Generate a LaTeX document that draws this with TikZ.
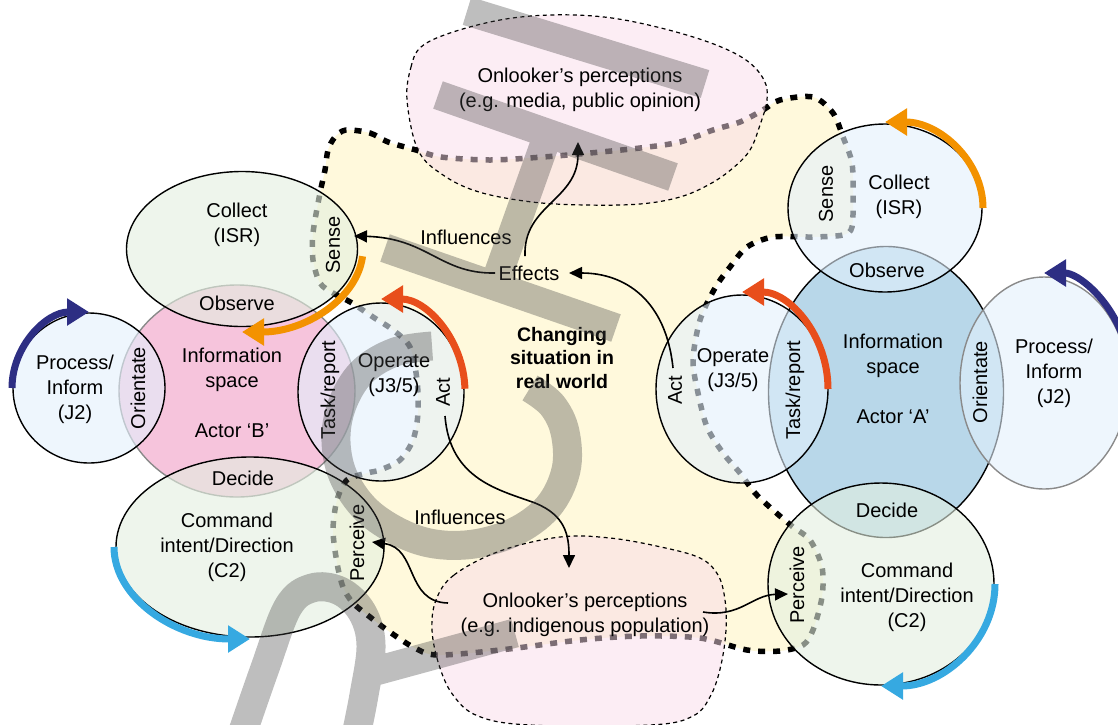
\documentclass[tikz,border=0pt]{standalone}
\usepackage{fontspec}
\setmainfont{Liberation Sans}
\usetikzlibrary{arrows.meta}
\definecolor{zoneyellow}{HTML}{FFF9DC}
\definecolor{blobpink}{HTML}{F9DBE9}
\definecolor{infopink}{HTML}{F6C4DC}
\definecolor{infoblue}{HTML}{B8D7E9}
\definecolor{satgreen}{HTML}{E3EFE0}
\definecolor{satblue}{HTML}{E3F0FC}
\definecolor{loopnavy}{HTML}{2D2E83}
\definecolor{looporange}{HTML}{F39200}
\definecolor{loopred}{HTML}{E84E1B}
\definecolor{loopsky}{HTML}{36A9E1}
\definecolor{wmgray}{HTML}{444444}
\definecolor{rimgray}{HTML}{8A8A8A}
\begin{document}
\begin{tikzpicture}[x=1pt, y=-1pt,
  lbl/.style={font=\fontsize{20}{25}\selectfont, align=center, inner sep=0pt},
  vlbl/.style={lbl, rotate=90},
  hdr/.style={lbl, font=\fontsize{19.5}{23.5}\selectfont\bfseries},
  sat/.style={draw=black, line width=1.4pt, fill opacity=0.6},
  core/.style={line width=1.4pt},
  zone/.style={fill=zoneyellow, draw=black, line width=5.5pt, dash pattern=on 7pt off 8pt},
  blob/.style={fill=blobpink, fill opacity=0.5, draw=black, line width=1.2pt, dash pattern=on 4pt off 3.5pt},
  link/.style={line width=1.6pt, -{Triangle[length=13pt,width=12pt]}},
  cyc/.style={line width=7pt, -{Triangle[length=22pt,width=26pt]}},
  wm/.style={draw=wmgray, draw opacity=0.35, line width=29pt}
]
\useasboundingbox (0,0) rectangle (1118,724);
\clip (0,0) rectangle (1118,724);

% centres of the loop ellipses
\coordinate (cl) at (242,249);  % collect, actor B
\coordinate (il) at (237,391);  % information space B
\coordinate (pl) at (89,388);   % process B
\coordinate (ol) at (381,392);  % operate B
\coordinate (dl) at (250,547);  % command B
\coordinate (cr) at (885,208);  % collect, actor A
\coordinate (ir) at (886,392);  % information space A
\coordinate (pr) at (1044,383); % process A
\coordinate (or) at (742,389);  % operate A
\coordinate (dr) at (881,584);  % command A

% changing situation in the real world
\path[zone] plot[smooth cycle, tension=0.5] coordinates {
  (346,130) (370,133) (388,142) (416,150) (441,157) (490,160) (543,157) (590,153)
  (640,148) (680,142) (713,130) (740,122) (763,110) (780,100) (813,97) (833,113)
  (843,137) (852,163) (853,197) (852,227) (843,235) (813,237) (773,237) (747,247)
  (730,267) (715,288) (700,320) (693,360) (698,393) (707,427) (723,453) (740,473)
  (755,493) (773,510) (793,527) (810,540) (822,567) (822,597) (813,630) (803,645)
  (780,651) (747,650) (700,638) (640,636) (580,640) (500,650) (437,655) (413,647)
  (387,630) (370,617) (353,603) (343,587) (337,563) (333,530) (337,500) (347,480)
  (367,473) (380,470) (400,460) (413,440) (418,413) (417,380) (410,347) (393,330)
  (373,317) (352,303) (333,293) (320,283) (313,260) (313,233) (320,193) (325,170)
  (328,150) (335,137)};

% onlookers
\path[blob] plot[smooth cycle, tension=0.6] coordinates {
  (407,100) (411,67) (421,47) (450,33) (500,20) (550,15) (604,17) (657,27)
  (711,43) (746,60) (764,80) (767,100) (760,125) (750,150) (733,168) (710,184)
  (680,197) (640,204) (586,205) (532,202) (479,192) (443,175) (418,150)};
\path[blob] plot[smooth cycle, tension=0.6] coordinates {
  (436,600) (454,575) (500,551) (560,537) (610,538) (661,547) (700,558) (718,575)
  (725,600) (726,630) (721,665) (711,695) (693,716) (650,725) (530,725)
  (478,716) (453,695) (439,665) (432,630)};

% information spaces
\draw[core, draw=rimgray, fill=infopink] (il) ellipse [x radius=118, y radius=106];
\draw[core, fill=infoblue] (ir) ellipse [x radius=117.5, y radius=145.5];

% loop stages, actor B
\draw[sat, fill=satgreen] (cl) ellipse [x radius=115.5, y radius=77.5];
\draw[sat, fill=satblue]  (pl) ellipse [x radius=76, y radius=75];
\draw[sat, fill=satblue]  (ol) ellipse [x radius=83, y radius=89];
\draw[sat, fill=satgreen] (dl) ellipse [x radius=134, y radius=90];
% loop stages, actor A
\draw[sat, fill=satblue]  (cr) ellipse [x radius=97, y radius=84];
\draw[sat, fill=satblue]  (or) ellipse [x radius=86, y radius=94];
\draw[sat, draw=rimgray, fill=satblue] (pr) ellipse [x radius=84, y radius=106];
\draw[sat, fill=satgreen] (dr) ellipse [x radius=113, y radius=101];

% cycle arrows
\draw[cyc, loopnavy]   (pl) ++(180:77 and 76) arc[start angle=180, end angle=270, x radius=77, y radius=76];
\draw[cyc, looporange] (cl) ++(5:121 and 83) arc[start angle=5, end angle=90, x radius=121, y radius=83];
\draw[cyc, loopred]    (ol) ++(-2:84 and 93) arc[start angle=-2, end angle=-90, x radius=84, y radius=93];
\draw[cyc, loopsky]    (dl) ++(180:136 and 92) arc[start angle=180, end angle=90, x radius=136, y radius=92];
\draw[cyc, looporange] (cr) ++(0:98 and 86) arc[start angle=0, end angle=-90, x radius=98, y radius=86];
\draw[cyc, loopnavy]   (pr) ++(-25:87 and 110) arc[start angle=-25, end angle=-90, x radius=87, y radius=110];
\draw[cyc, loopred]    (or) ++(0:86 and 97) arc[start angle=0, end angle=-90, x radius=86, y radius=97];
\draw[cyc, loopsky]    (dr) ++(0:114 and 102) arc[start angle=0, end angle=90, x radius=114, y radius=102];

% labels, actor B
\node[lbl] (collB) at (237,225) {Collect\\(ISR)};
\node[vlbl] (senseB) at (333,245) {Sense};
\node[lbl] (obsB) at (237,303) {Observe};
\node[lbl] (infoB) at (232,370) {Information\\space};
\node[lbl] (actorB) at (232,431) {Actor ‘B’};
\node[lbl] (decB) at (243,478) {Decide};
\node[lbl] (procB) at (75,389) {Process/\\Inform\\(J2)};
\node[vlbl] (oriB) at (138,388) {Orientate};
\node[vlbl] (taskB) at (330,390) {Task/report};
\node[lbl] (opB) at (394,375) {Operate\\(J3/5)};
\node[vlbl] (actB) at (443,392) {Act};
\node[lbl] (cmdB) at (227,547) {Command\\intent/Direction\\(C2)};
\node[vlbl] (percB) at (357,543) {Perceive};

% labels, actor A
\node[lbl] (collA) at (899,197) {Collect\\(ISR)};
\node[vlbl] (senseA) at (826,194) {Sense};
\node[lbl] (obsA) at (887,270) {Observe};
\node[lbl] (infoA) at (893,356) {Information\\space};
\node[lbl] (actorA) at (893,417) {Actor ‘A’};
\node[lbl] (decA) at (887,510) {Decide};
\node[lbl] (procA) at (1054,373) {Process/\\Inform\\(J2)};
\node[vlbl] (oriA) at (980,382) {Orientate};
\node[lbl] (opA) at (733,370) {Operate\\(J3/5)};
\node[vlbl] (actA) at (675,390) {Act};
\node[vlbl] (taskA) at (795,390) {Task/report};
\node[lbl] (cmdA) at (907,597) {Command\\intent/Direction\\(C2)};
\node[vlbl] (percA) at (797,585) {Perceive};

% the shared situation
\node[hdr] (world) at (562,358) {Changing\\situation in\\real world};
\node[lbl] (eff) at (529,273) {Effects};
\node[lbl] (media) at (580,90) {Onlooker’s perceptions\\(e.g. media, public opinion)};
\node[lbl] (locals) at (585,615) {Onlooker’s perceptions\\(e.g. indigenous population)};
\node[lbl] (inflTop) at (466,237) {Influences};
\node[lbl] (inflLow) at (460,517) {Influences};

% connector ends
\coordinate (effL) at (495,273);
\coordinate (effT) at (525,256);
\coordinate (effR) at (569,273);
\coordinate (senseBin) at (354,236);
\coordinate (mediaIn) at (578,142);
\coordinate (actAout) at (673,368);
\coordinate (actBout) at (445,416);
\coordinate (localsIn) at (569,568);
\coordinate (localsL) at (448,603);
\coordinate (localsR) at (703,612);
\coordinate (percBin) at (372,542);
\coordinate (percAin) at (788,594);

\draw[link] (effL) .. controls (440,274) and (428,238) .. (senseBin);
\draw[link] (effT) .. controls (523,205) and (578,200) .. (mediaIn);
\draw[link] (actAout) .. controls (666,300) and (625,273) .. (effR);
\draw[link] (actBout) .. controls (450,480) and (500,490) .. (535,503)
                      .. controls (565,515) and (569,535) .. (localsIn);
\draw[link] (localsL) .. controls (405,602) and (418,548) .. (percBin);
\draw[link] (localsR) .. controls (740,618) and (752,595) .. (percAin);

% draft watermark
\draw[wm] (467,11) -- (705,84)
  (438,95) -- (673,177)
  (546,140) -- (499,272)
  (385,248) -- (616,328)
  plot[smooth, tension=0.6] coordinates {(432,346) (395,352) (362,372) (342,405)
    (336,442) (345,480) (372,515) (418,540) (465,545) (512,533) (548,507)
    (566,470) (565,432) (552,405) (530,388)}
  plot[smooth, tension=0.6] coordinates {(240,740) (265,668) (288,607) (312,588)
    (340,591) (362,612) (371,645) (364,695) (355,740)}
  (372,672) -- (515,633);
\end{tikzpicture}
\end{document}
